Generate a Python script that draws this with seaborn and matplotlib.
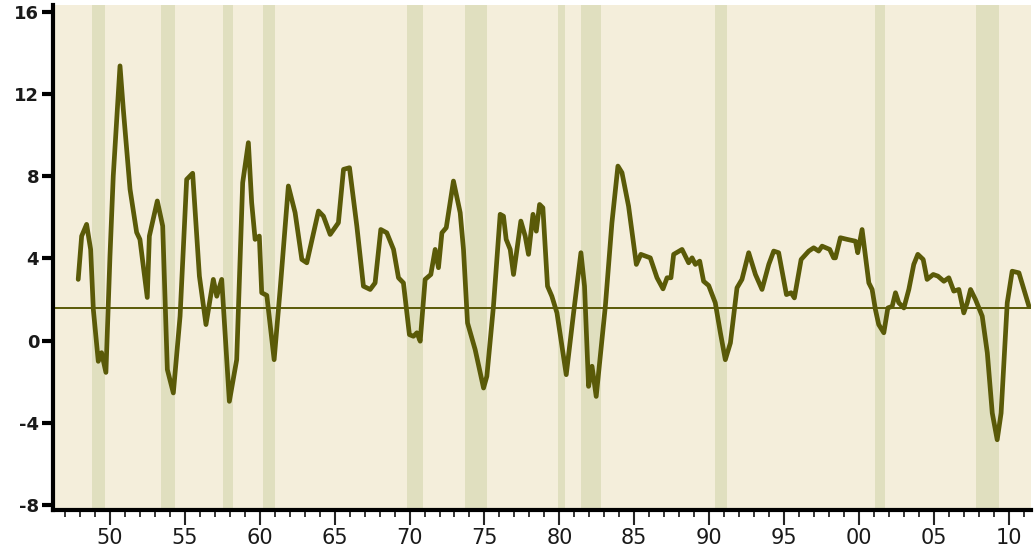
import matplotlib
matplotlib.use('Agg')
import matplotlib.pyplot as plt
import pandas as pd
import numpy as np
import seaborn as sns

# series (decimal year, percent)
years = [1947.88, 1948.11, 1948.44, 1948.71, 1948.89, 1949.22, 1949.44, 1949.73, 1950.0, 1950.22,
         1950.67, 1950.89, 1951.34, 1951.78, 1952.0, 1952.49, 1952.63, 1953.16, 1953.52, 1953.83,
         1954.23, 1954.68, 1955.12, 1955.52, 1955.97, 1956.41, 1956.9, 1957.13, 1957.46, 1957.97,
         1958.46, 1958.86, 1959.24, 1959.46, 1959.69, 1959.97, 1960.13, 1960.47, 1960.96, 1961.36,
         1961.91, 1962.36, 1962.81, 1963.14, 1963.92, 1964.25, 1964.7, 1965.25, 1965.59, 1965.99,
         1966.48, 1966.92, 1967.37, 1967.7, 1968.08, 1968.48, 1968.93, 1969.26, 1969.59, 1969.99,
         1970.26, 1970.49, 1970.71, 1971.04, 1971.42, 1971.71, 1971.93, 1972.16, 1972.45, 1972.93,
         1973.38, 1973.6, 1973.87, 1974.38, 1974.94, 1975.16, 1975.6, 1976.05, 1976.27, 1976.45,
         1976.72, 1976.94, 1977.43, 1977.72, 1977.94, 1978.24, 1978.46, 1978.68, 1978.9, 1979.21,
         1979.5, 1979.84, 1980.46, 1980.95, 1981.44, 1981.68, 1981.95, 1982.18, 1982.46, 1983.07,
         1983.51, 1983.91, 1984.18, 1984.62, 1985.14, 1985.44, 1986.07, 1986.52, 1986.92, 1987.19,
         1987.45, 1987.63, 1988.19, 1988.63, 1988.86, 1989.08, 1989.37, 1989.63, 1989.97, 1990.41,
         1990.75, 1991.08, 1991.42, 1991.86, 1992.19, 1992.64, 1993.09, 1993.53, 1993.98, 1994.31,
         1994.64, 1995.16, 1995.47, 1995.69, 1996.14, 1996.65, 1996.98, 1997.31, 1997.54, 1998.05,
         1998.31, 1998.43, 1998.76, 1999.21, 1999.77, 1999.92, 2000.21, 2000.32, 2000.66, 2000.88,
         2001.1, 2001.32, 2001.66, 2001.93, 2002.22, 2002.44, 2002.66, 2003.0, 2003.33, 2003.66,
         2003.93, 2004.29, 2004.55, 2004.96, 2005.27, 2005.67, 2006.0, 2006.33, 2006.67, 2007.0,
         2007.23, 2007.45, 2007.78, 2008.23, 2008.57, 2008.9, 2009.23, 2009.49, 2009.9, 2010.23,
         2010.68, 2011.35]
values = [2.98, 5.09, 5.66, 4.44, 1.51, -1.01, -0.59, -1.55, 4.11, 8.02,
          13.38, 11.27, 7.37, 5.27, 4.93, 2.10, 5.09, 6.80, 5.58, -1.41,
          -2.55, 1.19, 7.85, 8.15, 3.14, 0.78, 2.98, 2.16, 2.98, -2.96,
          -0.93, 7.69, 9.64, 6.72, 4.93, 5.09, 2.33, 2.20, -0.93, 2.49,
          7.53, 6.23, 3.95, 3.79, 6.31, 6.06, 5.17, 5.74, 8.34, 8.42,
          5.58, 2.65, 2.49, 2.81, 5.41, 5.25, 4.44, 3.06, 2.81, 0.29,
          0.21, 0.38, -0.03, 2.98, 3.22, 4.44, 3.55, 5.25, 5.50, 7.77,
          6.23, 4.44, 0.86, -0.44, -2.31, -1.74, 1.67, 6.15, 6.06, 4.93,
          4.44, 3.22, 5.82, 5.09, 4.20, 6.15, 5.33, 6.63, 6.47, 2.65,
          2.16, 1.35, -1.66, 1.35, 4.28, 2.65, -2.23, -1.25, -2.72, 1.67,
          5.74, 8.50, 8.18, 6.55, 3.71, 4.20, 4.03, 3.06, 2.52, 3.06,
          3.06, 4.20, 4.44, 3.79, 4.03, 3.71, 3.87, 2.89, 2.68, 1.84,
          0.38, -0.93, -0.11, 2.57, 2.98, 4.28, 3.22, 2.49, 3.71, 4.36,
          4.28, 2.24, 2.33, 2.08, 3.95, 4.36, 4.52, 4.36, 4.60, 4.44,
          4.03, 4.03, 5.01, 4.93, 4.84, 4.28, 5.41, 4.77, 2.81, 2.49,
          1.51, 0.78, 0.38, 1.59, 1.67, 2.33, 1.84, 1.59, 2.49, 3.71,
          4.20, 3.95, 2.98, 3.22, 3.14, 2.89, 3.06, 2.41, 2.49, 1.35,
          1.84, 2.49, 2.00, 1.19, -0.60, -3.53, -4.83, -3.53, 1.84, 3.38,
          3.30, 1.67]

# recession periods (start, end)
rec_start = [1948.8, 1953.4, 1957.55, 1960.2, 1969.86, 1973.72, 1979.88, 1981.46, 1990.42, 2001.1, 2007.8]
rec_end = [1949.65, 1954.34, 1958.2, 1961.02, 1970.89, 1975.16, 1980.38, 1982.78, 1991.18, 2001.77, 2009.34]

ref_level = 1.6
yticks = [-8, -4, 0, 4, 8, 12, 16]
xtick_years = list(range(1950, 2011, 5))
xtick_labels = ['50', '55', '60', '65', '70', '75', '80', '85', '90', '95', '00', '05', '10']

df = pd.DataFrame({'year': years, 'value': values})

sns.set_style('ticks')
line_color = '#5a5a08'

fig = plt.figure(figsize=(10.34, 5.46), dpi=100)
ax = fig.add_axes([0.0513, 0.066, 0.946, 0.925])
ax.set_facecolor('#f4eedb')

for s, e in zip(rec_start, rec_end):
    ax.axvspan(s, e, color='#e0dfbf', lw=0, zorder=1)

ax.axhline(ref_level, color=line_color, lw=1.4, zorder=2)
sns.lineplot(data=df, x='year', y='value', ax=ax, color=line_color, lw=3.4, zorder=3,
             solid_joinstyle='round', solid_capstyle='round')

ax.set_xlim(1946.2, 2011.5)
ax.set_ylim(-8.25, 16.35)
ax.set_yticks(yticks)
ax.set_yticklabels([str(v) for v in yticks], fontsize=13, fontweight='bold', color='#1a1a1a')
ax.set_xticks(xtick_years)
ax.set_xticklabels(xtick_labels, fontsize=15, color='#1a1a1a')
ax.set_xticks(range(1947, 2012), minor=True)
ax.tick_params(axis='y', length=8, width=3, pad=2, color='black')
ax.tick_params(axis='x', which='major', length=11, width=1.5, pad=2)
ax.tick_params(axis='x', which='minor', length=5, width=1.3)
ax.set_xlabel('')
ax.set_ylabel('')

for side in ['top', 'right']:
    ax.spines[side].set_visible(False)
for side in ['left', 'bottom']:
    ax.spines[side].set_linewidth(3)
    ax.spines[side].set_color('black')

fig.savefig('out.png', dpi=100, facecolor='white')
